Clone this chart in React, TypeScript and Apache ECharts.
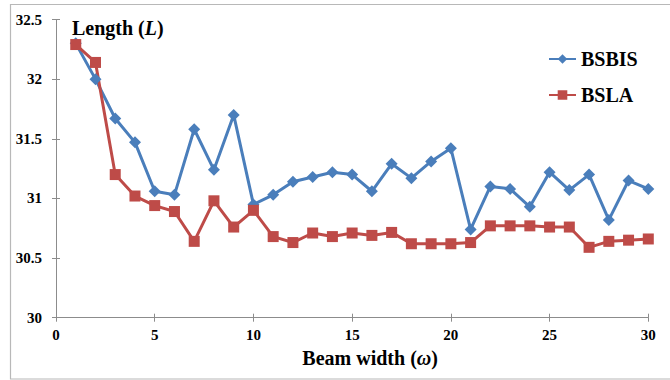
import React, { useEffect, useRef } from "react";
import * as echarts from "echarts";

const beamWidths = [1,2,3,4,5,6,7,8,9,10,11,12,13,14,15,16,17,18,19,20,21,22,23,24,25,26,27,28,29,30];
const bsbis = [32.3,32.0,31.67,31.47,31.06,31.03,31.58,31.24,31.7,30.95,31.03,31.14,31.18,31.22,31.2,31.06,31.29,31.17,31.31,31.42,30.74,31.1,31.08,30.93,31.22,31.07,31.2,30.82,31.15,31.08];
const bsla = [32.29,32.14,31.2,31.02,30.94,30.89,30.64,30.98,30.76,30.9,30.68,30.63,30.71,30.68,30.71,30.69,30.715,30.62,30.62,30.62,30.63,30.77,30.77,30.77,30.76,30.76,30.59,30.64,30.65,30.66];
const xTicks = { min: 0, max: 30, interval: 5 };
const yTicks = { min: 30, max: 32.5, interval: 0.5 };

const serif = "Liberation Serif";

export default function App() {
  const ref = useRef<HTMLDivElement>(null);
  useEffect(() => {
    document.body.style.margin = "0";
    const chart = echarts.init(ref.current!, null, { renderer: "svg" });
    const axisColor = "#8c8c8c";
    const rich = {
      b: { fontFamily: serif, fontWeight: "bold", fontSize: 20, color: "#000" },
      i: { fontFamily: serif, fontWeight: "bold", fontStyle: "italic", fontSize: 20, color: "#000" },
    };
    const tickLabel = { color: "#000", fontFamily: serif, fontWeight: "bold" as const, fontSize: 15 };
    chart.setOption({
      animation: false,
      backgroundColor: "#fff",
      title: {
        text: "{b|Length (}{i|L}{b|)}",
        left: 72,
        top: 18,
        padding: 0,
        textStyle: { rich },
      },
      legend: {
        orient: "vertical",
        left: 548,
        top: 49,
        padding: 0,
        itemWidth: 27,
        itemHeight: 12,
        itemGap: 16,
        textStyle: { fontFamily: serif, fontWeight: "bold", fontSize: 20, color: "#000" },
        data: ["BSBIS", "BSLA"],
      },
      grid: { left: 56, right: 21.7, top: 19.5, bottom: 62.3, containLabel: false },
      xAxis: [
        {
          type: "value",
          min: xTicks.min,
          max: xTicks.max,
          interval: xTicks.interval,
          name: "{b|Beam width (}{i|ω}{b|)}",
          nameLocation: "middle",
          nameGap: 29,
          nameTextStyle: { rich, padding: [0, 0, 0, 36] },
          axisLine: { show: true, lineStyle: { color: axisColor, width: 1 } },
          axisTick: { show: true, length: 4, lineStyle: { color: axisColor } },
          axisLabel: { ...tickLabel, margin: 10 },
          splitLine: { show: false },
        },
        {
          type: "value",
          min: xTicks.min,
          max: xTicks.max,
          interval: xTicks.interval,
          position: "bottom",
          axisLine: { show: false },
          axisTick: { show: true, inside: true, length: 4, lineStyle: { color: axisColor } },
          axisLabel: { show: false },
          splitLine: { show: false },
        },
      ],
      yAxis: [
        {
          type: "value",
          min: yTicks.min,
          max: yTicks.max,
          interval: yTicks.interval,
          axisLine: { show: true, lineStyle: { color: axisColor, width: 1 } },
          axisTick: { show: true, length: 4, lineStyle: { color: axisColor } },
          axisLabel: { ...tickLabel, margin: 14 },
          splitLine: { show: false },
        },
        {
          type: "value",
          min: yTicks.min,
          max: yTicks.max,
          interval: yTicks.interval,
          position: "left",
          axisLine: { show: false },
          axisTick: { show: true, inside: true, length: 4, lineStyle: { color: axisColor } },
          axisLabel: { show: false },
          splitLine: { show: false },
        },
      ],
      graphic: [
        {
          type: "rect",
          shape: { x: 10.5, y: 4.5, width: 700, height: 374.5 },
          style: { fill: "none", stroke: "#b8b8b8", lineWidth: 1.2 },
          silent: true,
        },
      ],
      series: [
        {
          name: "BSBIS",
          type: "line",
          data: beamWidths.map((x, i) => [x, bsbis[i]]),
          symbol: "diamond",
          symbolSize: 12,
          lineStyle: { color: "#4a7ebb", width: 3 },
          itemStyle: { color: "#4a7ebb" },
        },
        {
          name: "BSLA",
          type: "line",
          data: beamWidths.map((x, i) => [x, bsla[i]]),
          symbol: "rect",
          symbolSize: 11,
          lineStyle: { color: "#be4b48", width: 3 },
          itemStyle: { color: "#be4b48" },
        },
      ],
    });
    return () => chart.dispose();
  }, []);
  return <div ref={ref} style={{ width: 670, height: 380 }} />;
}
